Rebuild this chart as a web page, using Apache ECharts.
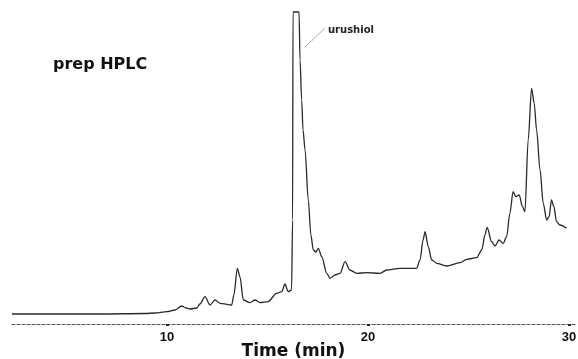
<!DOCTYPE html>
<html>
<head>
<meta charset="utf-8">
<script src="https://cdn.jsdelivr.net/npm/echarts@6/dist/echarts.min.js"></script>
<style>html,body{margin:0;padding:0;background:#fff;}#c{width:578px;height:359px;}</style>
</head>
<body>
<div id="c"></div>
<script>
// Retention time (min)
const times = [2.29,4.68,6.67,8.91,9.40,10.00,10.40,10.73,10.95,11.14,11.48,11.64,11.89,12.14,12.39,12.64,13.22,13.33,13.50,13.63,13.80,14.13,14.38,14.63,15.02,15.46,15.71,15.87,16.03,16.20,16.25,16.27,16.57,16.62,16.70,16.77,16.87,17.03,17.16,17.28,17.41,17.53,17.70,17.95,18.11,18.36,18.61,18.86,19.10,19.44,19.94,20.60,20.93,21.59,22.42,22.59,22.74,22.84,23.00,23.17,23.42,23.91,24.58,24.91,25.41,25.66,25.82,25.93,26.15,26.32,26.52,26.73,26.90,27.06,27.22,27.36,27.52,27.69,27.81,27.97,28.14,28.27,28.39,28.56,28.72,28.89,29.01,29.13,29.25,29.38,29.55,29.88];
// Detector response (arbitrary units)
const signal = [0,0,0,0.5,1,2.3,4,8,6,5,6,10,17.3,9,14,10.7,9,19,45.7,37.3,14,11.3,14,11.3,12.3,20.7,22.3,30,22.3,24,94,302,302,254,214,184,164,114,79,64,62,65.7,57.3,40.7,35.7,39,40.7,52.3,44,40.7,41.3,40.7,44,45.7,45.7,54,74,82.3,67.3,54,50.7,48,51.3,54.7,56.3,64,79,86.7,72.3,68,74,70.7,77.3,100.7,122.3,117.3,119,107.3,102.3,174,225.7,210.7,184,144,110.7,94,97.3,114,107.3,92.3,89,85.7];
const tickValues = [10, 20, 30];
const xTitle = 'Time (min)';
const chartLabel = 'prep HPLC';
const peakLabel = 'urushiol';

const pts = times.map((t, i) => [t, signal[i]]);
const chart = echarts.init(document.getElementById('c'));
chart.setOption({
  animation: false,
  backgroundColor: '#fff',
  grid: { left: 12, right: 3, top: 10, bottom: 35, containLabel: false, outerBoundsMode: 'none' },
  xAxis: {
    type: 'value', min: 2.29, max: 30.30,
    name: xTitle, nameLocation: 'middle', nameGap: 19, nameMoveOverlap: false,
    nameTextStyle: { fontFamily: 'DejaVu Sans', fontWeight: 'bold', fontSize: 17, color: '#111' },
    axisLine: { show: true, onZero: false, lineStyle: { color: '#555', width: 1.2, type: [3, 2] } },
    axisTick: { show: true, customValues: tickValues, length: 2, inside: false, lineStyle: { color: '#222', width: 3 } },
    axisLabel: { customValues: tickValues, margin: 7, fontFamily: 'Liberation Sans', fontWeight: 'bold', fontSize: 13, color: '#111' },
    splitLine: { show: false }
  },
  yAxis: { type: 'value', min: -10, max: 304, show: false, splitLine: { show: false } },
  series: [{
    type: 'line', data: pts, showSymbol: false, symbol: 'none',
    smooth: 0.3, smoothMonotone: 'x',
    lineStyle: { color: '#2a2a2a', width: 1.3 }
  }],
  graphic: [
    { type: 'text', left: 53, top: 57, style: { text: chartLabel, fontFamily: 'DejaVu Sans', fontWeight: 'bold', fontSize: 16, fill: '#111' } },
    { type: 'text', left: 328, top: 25, style: { text: peakLabel, fontFamily: 'DejaVu Sans', fontWeight: 'bold', fontSize: 10, fill: '#222' } },
    { type: 'line', shape: { x1: 305, y1: 47, x2: 325, y2: 28 }, style: { stroke: '#888', lineWidth: 1, lineDash: [2, 1] } }
  ]
});
</script>
</body>
</html>
